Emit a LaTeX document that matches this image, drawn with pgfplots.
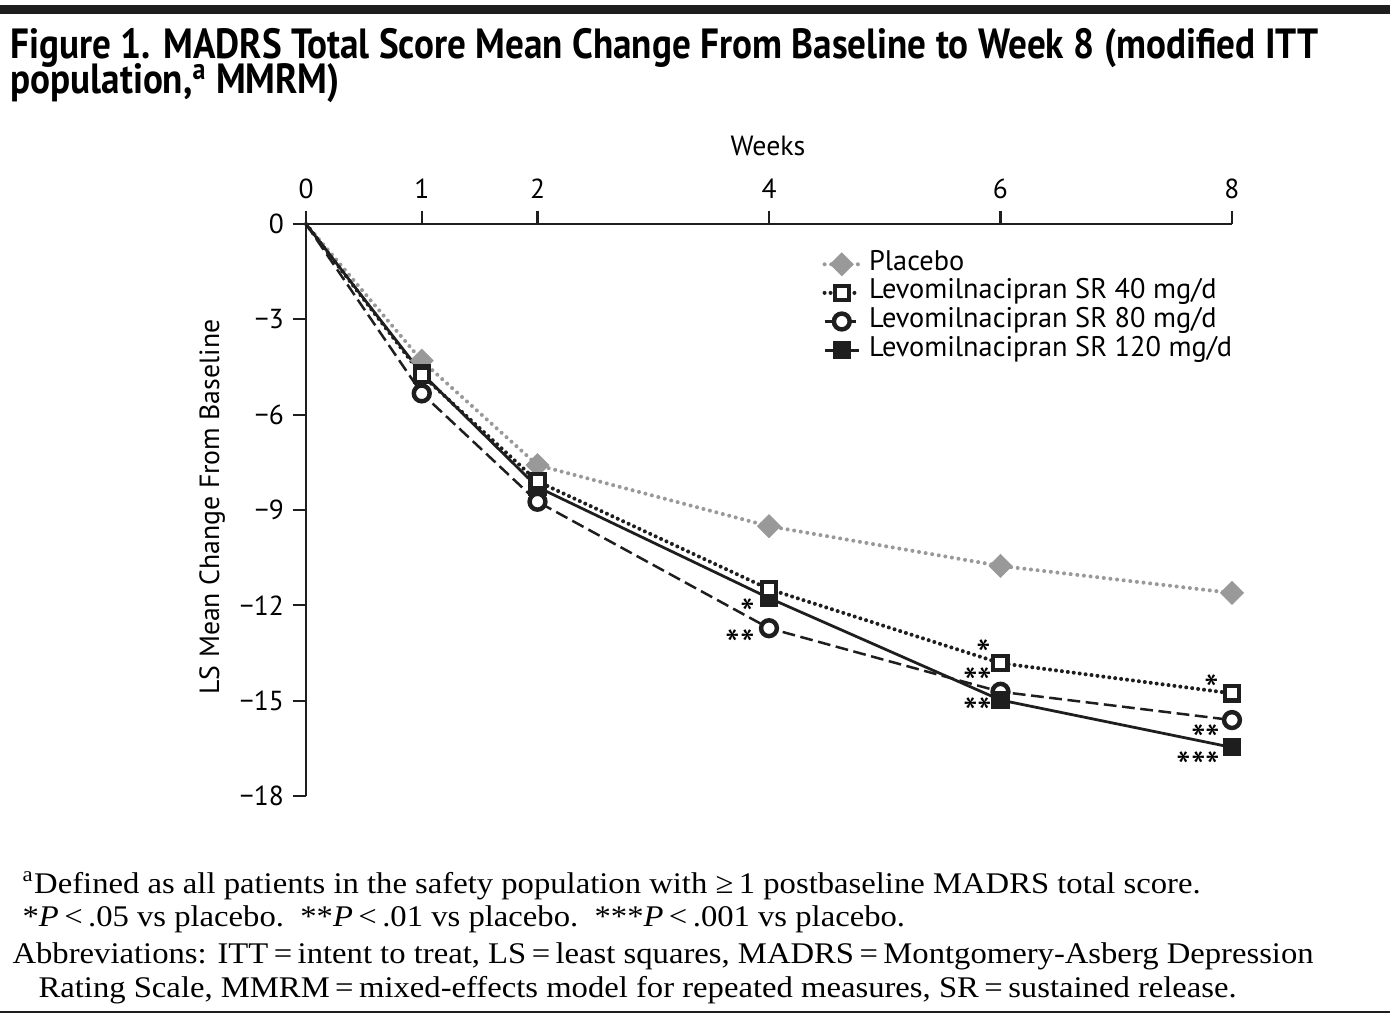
\documentclass[border=0pt]{standalone}
\usepackage{fontspec}
\setmainfont{PT Sans}
\newfontfamily\notefont{Liberation Serif}
\usepackage{pgfplots}
\pgfplotsset{compat=1.18}
\definecolor{plgray}{HTML}{999999}
\definecolor{ink}{HTML}{1E1E1E}
\newsavebox\tA
\newsavebox\tB
\newsavebox\nA
\newsavebox\nB
\newsavebox\nC
\newsavebox\nD
\newcommand\sigmark[1]{\raisebox{-0.43em}[0.33em][0pt]{#1}}
\pgfplotsset{
  plac/.style={color=plgray, line width=1.45pt, dash pattern=on 0pt off 2.4pt, line cap=round,
    mark=square*, mark size=2.95pt, mark options={solid, rotate=45, fill=plgray, draw=plgray, line width=0.2pt}},
  m40/.style={color=ink, line width=1.45pt, dash pattern=on 0pt off 2.15pt, line cap=round,
    mark=square*, mark size=2.55pt, mark options={solid, fill=white, draw=ink, line width=1.5pt, line join=miter, line cap=butt}},
  m80/.style={color=ink, line width=0.9pt, dash pattern=on 4.6pt off 2pt,
    mark=*, mark size=2.85pt, mark options={solid, fill=white, draw=ink, line width=1.6pt}},
  m120/.style={color=ink, line width=1.0pt, solid,
    mark=square*, mark size=3.05pt, mark options={solid, fill=ink, draw=ink, line width=0.4pt}},
}
\begin{document}
\sbox\tA{\fontsize{15.2}{16}\selectfont\bfseries Figure 1. MADRS Total Score Mean Change From Baseline to Week 8 (modified ITT}%
\sbox\tB{\fontsize{15.2}{16}\selectfont\bfseries population,\textsuperscript{a} MMRM)}%
\sbox\nA{\notefont\fontsize{10.8}{12}\selectfont \textsuperscript{a}Defined as all patients in the safety population with ≥\,1 postbaseline MADRS total score.}%
\sbox\nB{\notefont\fontsize{10.8}{12}\selectfont *\textit{P}\,<\,.05 vs placebo.\ \ **\textit{P}\,<\,.01 vs placebo.\ \ ***\textit{P}\,<\,.001 vs placebo.}%
\sbox\nC{\notefont\fontsize{10.8}{12}\selectfont Abbreviations: ITT\,=\,intent to treat, LS\,=\,least squares, MADRS\,=\,Montgomery-Asberg Depression}%
\sbox\nD{\notefont\fontsize{10.8}{12}\selectfont Rating Scale, MMRM\,=\,mixed-effects model for repeated measures, SR\,=\,sustained release.}%
\pgfmathsetmacro\tsx{470.9/\the\wd\tA}%
\pgfmathsetmacro\nsx{468.4/\the\wd\nC}%
\begin{tikzpicture}[x=0.36pt,y=0.36pt]
\useasboundingbox (0,0) rectangle (1390,-1018);
\fill[ink] (0,-5) rectangle (1390,-14);
\draw[ink, line width=0.8pt] (0,-1012) -- (1390,-1012);
% title
\node[anchor=base west, inner sep=0pt] at (10,-59) {\scalebox{\tsx}[1]{\usebox\tA}};
\node[anchor=base west, inner sep=0pt] at (10,-94) {\scalebox{\tsx}[1]{\usebox\tB}};
% footnotes
\node[anchor=base west, inner sep=0pt] at (22,-893) {\scalebox{\nsx}[1]{\usebox\nA}};
\node[anchor=base west, inner sep=0pt] at (22,-926) {\scalebox{\nsx}[1]{\usebox\nB}};
\node[anchor=base west, inner sep=0pt] at (12,-963) {\scalebox{\nsx}[1]{\usebox\nC}};
\node[anchor=base west, inner sep=0pt] at (38,-997) {\scalebox{\nsx}[1]{\usebox\nD}};
% labels
\node[anchor=base, inner sep=0pt, font=\fontsize{10}{12}\selectfont] at (768,-156) {Weeks};
\node[anchor=base, inner sep=0pt, rotate=90, font=\fontsize{10}{12}\selectfont] at (219,-507) {LS Mean Change From Baseline};
\begin{axis}[
  at={(110.16pt,-80.64pt)}, anchor=north west,
  scale only axis, width=333.36pt, height=205.92pt,
  xmin=0, xmax=8, ymin=-18, ymax=0,
  axis x line=top, axis y line=left,
  axis line style={-, line width=0.8pt, ink},
  xtick={0,1,2,4,6,8}, xticklabels={0,1,2,4,6,8},
  ytick={-18,-15,-12,-9,-6,-3,0},
  yticklabels={−18,−15,−12,−9,−6,−3,0},
  tick align=outside, major tick length=4.8pt,
  tick style={line width=0.8pt, ink},
  ticklabel style={font=\fontsize{9.9}{11}\selectfont, inner sep=0pt},
  xticklabel style={anchor=base, yshift=4.3pt},
  yticklabel style={anchor=east, xshift=-3pt},
  clip=false,
  legend image code/.code={\draw[mark repeat=2,mark phase=2,#1] plot coordinates {(0pt,0pt) (6.2pt,0pt) (12.4pt,0pt)};},
  legend cell align=left,
  legend style={draw=none, fill=none, at={(axis cs:4.458,-0.80)}, anchor=north west,
    inner sep=0pt, row sep=0pt, column sep=2.9pt, font=\fontsize{10.2}{12}\selectfont,
    nodes={inner sep=0pt, text height=7.3pt, text depth=3pt}},
]
\addlegendimage{plac}\addlegendentry{Placebo}
\addlegendimage{m40}\addlegendentry{Levomilnacipran SR 40 mg/d}
\addlegendimage{m80}\addlegendentry{Levomilnacipran SR 80 mg/d}
\addlegendimage{m120}\addlegendentry{Levomilnacipran SR 120 mg/d}
\addplot[plac, forget plot, mark indices={2,3,4,5,6}] coordinates {(0,0) (1,-4.30) (2,-7.59) (4,-9.51) (6,-10.76) (8,-11.61)};
\addplot[m80, forget plot, mark indices={2,3,4,5,6}] coordinates {(0,0) (1,-5.33) (2,-8.74) (4,-12.72) (6,-14.72) (8,-15.61)};
\addplot[m120, forget plot, mark indices={2,3,4,5,6}] coordinates {(0,0) (1,-4.70) (2,-8.28) (4,-11.77) (6,-14.98) (8,-16.47)};
\addplot[m40, forget plot, mark indices={2,3,4,5,6}] coordinates {(0,0) (1,-4.75) (2,-8.10) (4,-11.49) (6,-13.82) (8,-14.77)};
\end{axis}
% significance asterisks
\begin{scope}[every node/.style={inner sep=0pt, font=\fontsize{15}{16}\selectfont}]
\node at (747.7,-604) {\sigmark{*}};
\node at (740,-635) {\sigmark{**}};
\node at (983.3,-645) {\sigmark{*}};
\node at (977.7,-673) {\sigmark{**}};
\node at (977.7,-702.5) {\sigmark{**}};
\node at (1211.7,-680) {\sigmark{*}};
\node at (1205.7,-730) {\sigmark{**}};
\node at (1198.3,-756.5) {\sigmark{***}};
\end{scope}
\end{tikzpicture}
\end{document}
